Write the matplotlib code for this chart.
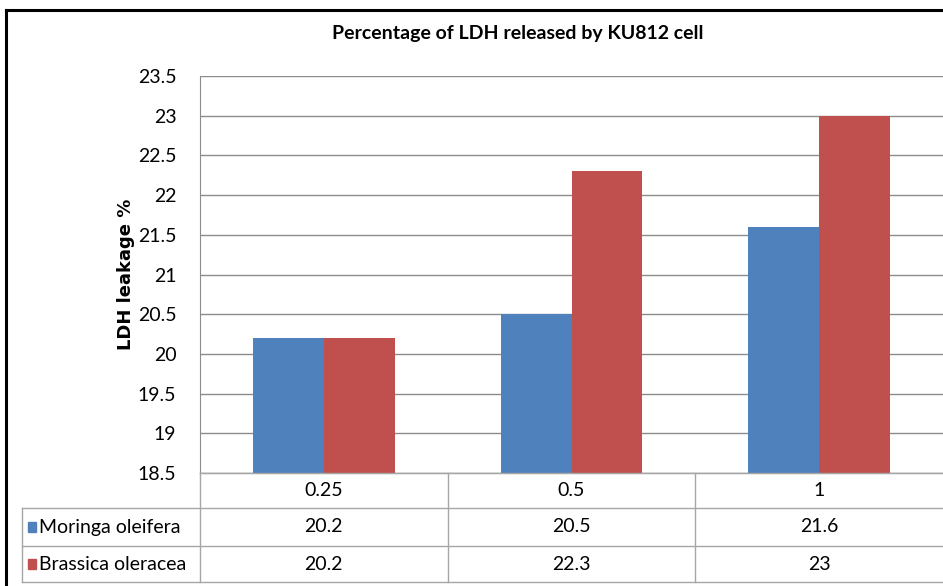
import matplotlib
matplotlib.use("Agg")
import matplotlib.pyplot as plt
from matplotlib import font_manager as fm
import numpy as np

categories = ["0.25", "0.5", "1"]
series_names = ["Moringa oleifera", "Brassica oleracea"]
moringa = [20.2, 20.5, 21.6]
brassica = [20.2, 22.3, 23]
yticks = [18.5, 19, 19.5, 20, 20.5, 21, 21.5, 22, 22.5, 23, 23.5]
colors = ["#4F81BD", "#C0504D"]

avail = {f.name for f in fm.fontManager.ttflist}
fam = "Lato" if "Lato" in avail else "Liberation Sans"
plt.rcParams['font.family'] = [fam, "DejaVu Sans"]

W, H = 943, 586
fig = plt.figure(figsize=(W / 100, H / 100), dpi=100)

def fx(px):
    return px / W

def fy(py):
    return 1 - py / H

x0, x1 = 200, 943
ytop, ybot = 76, 473
ax = fig.add_axes([fx(x0), fy(ybot), fx(x1) - fx(x0), fy(ytop) - fy(ybot)])

n = len(categories)
x = np.arange(n)
bw = 0.286
data = [moringa, brassica]
for i, (vals, c) in enumerate(zip(data, colors)):
    ax.bar(x + (i - 0.5) * bw, np.array(vals) - yticks[0], bottom=yticks[0],
           width=bw, color=c, zorder=3)

ax.set_xlim(-0.5, n - 0.5)
ax.set_ylim(yticks[0], yticks[-1])
ax.set_yticks(yticks)
ax.set_yticklabels([f"{t:g}" for t in yticks], fontsize=14)
ax.tick_params(axis='y', length=0, pad=17)
ax.set_xticks([])
ax.grid(axis='y', color="#8C8C8C", linewidth=1, zorder=0)
for s in ["top", "right"]:
    ax.spines[s].set_visible(False)
ax.spines["left"].set_color("#8C8C8C")
ax.spines["bottom"].set_color("#8C8C8C")
ax.set_ylabel("LDH leakage %", fontsize=13, fontweight="bold",
              family=["DejaVu Sans"], labelpad=2)

fig.text(fx(518), fy(33), "Percentage of LDH released by KU812 cell",
         ha="center", va="center", fontsize=14, fontweight="bold")

# outer chart border
fig.add_artist(plt.Line2D([fx(6), fx(6)], [fy(10), fy(590)], color="black", lw=2.2))
fig.add_artist(plt.Line2D([fx(6), fx(950)], [fy(10), fy(10)], color="black", lw=2.2))

# data table
gc = "#A6A6A6"
col_edges = [x0 + (x1 - x0) * k / n for k in range(n + 1)]
row_edges = [473, 508, 546, 582]
tl = 22
fig.add_artist(plt.Line2D([fx(x0), fx(x1)], [fy(row_edges[0])] * 2, color=gc, lw=1))
for r in row_edges[1:]:
    fig.add_artist(plt.Line2D([fx(tl), fx(x1)], [fy(r)] * 2, color=gc, lw=1))
for ce in col_edges[:-1]:
    fig.add_artist(plt.Line2D([fx(ce)] * 2, [fy(row_edges[0]), fy(row_edges[-1])], color=gc, lw=1))
fig.add_artist(plt.Line2D([fx(tl)] * 2, [fy(row_edges[1]), fy(row_edges[-1])], color=gc, lw=1))

fs = 14
for k, cat in enumerate(categories):
    cx = (col_edges[k] + col_edges[k + 1]) / 2
    fig.text(fx(cx), fy((row_edges[0] + row_edges[1]) / 2), cat,
             ha="center", va="center", fontsize=fs)
for j, (name, vals, c) in enumerate(zip(series_names, data, colors)):
    cy = (row_edges[j + 1] + row_edges[j + 2]) / 2
    fig.patches.append(plt.Rectangle((fx(28), fy(cy + 5)), fx(8), fy(cy - 5) - fy(cy + 5),
                                     transform=fig.transFigure, color=c, figure=fig))
    fig.text(fx(39), fy(cy), name, ha="left", va="center", fontsize=fs)
    for k, v in enumerate(vals):
        cx = (col_edges[k] + col_edges[k + 1]) / 2
        fig.text(fx(cx), fy(cy), f"{v:g}", ha="center", va="center", fontsize=fs)

fig.savefig("out.png", dpi=100)
